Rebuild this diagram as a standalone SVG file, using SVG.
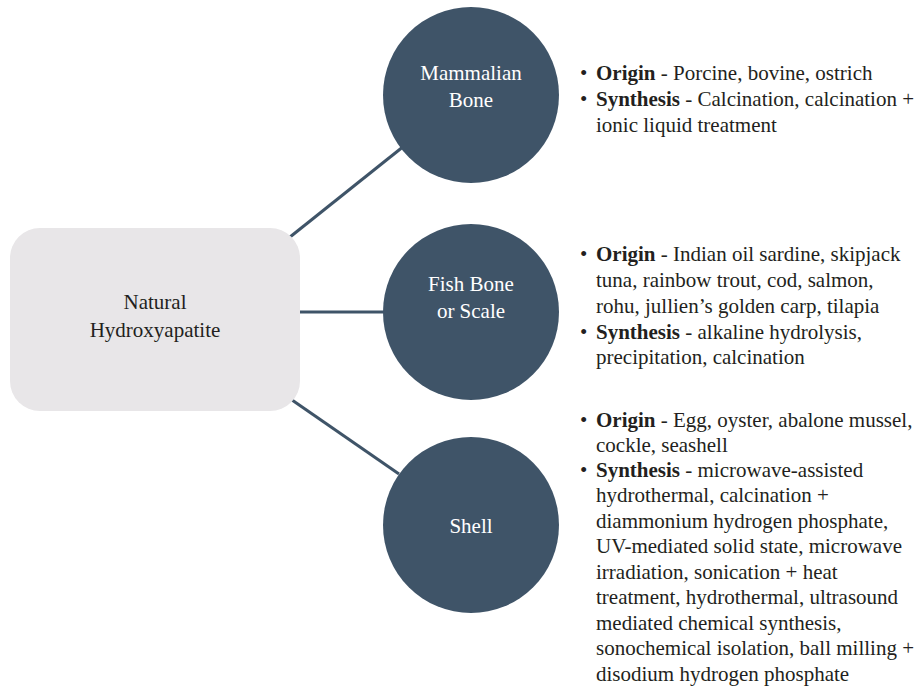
<svg xmlns="http://www.w3.org/2000/svg" width="918" height="686" viewBox="0 0 918 686">
<style>
.e{stroke:#3f5468;stroke-width:3;fill:none}
.c{fill:#3f5468}
</style>
<rect width="918" height="686" fill="#ffffff"/>
<g id="connectors">
<line class="e" x1="290" y1="237" x2="404" y2="146"/>
<line class="e" x1="300" y1="312" x2="386" y2="312"/>
<line class="e" x1="292" y1="400" x2="399" y2="474"/>
</g>
<g id="root">
<rect x="10" y="228" width="290" height="183" rx="30" ry="30" fill="#e8e6e8"/>
<text x="155" y="309" font-family="Liberation Serif" font-size="21" fill="#231f20" text-anchor="middle">Natural</text>
<text x="155" y="337" font-family="Liberation Serif" font-size="21" fill="#231f20" text-anchor="middle">Hydroxyapatite</text>
</g>
<g id="mammalian">
<circle class="c" cx="471" cy="95" r="88"/>
<text x="471" y="80" font-family="Liberation Serif" font-size="21" fill="#ffffff" text-anchor="middle">Mammalian</text>
<text x="471" y="107" font-family="Liberation Serif" font-size="21" fill="#ffffff" text-anchor="middle">Bone</text>
</g>
<g id="fish">
<circle class="c" cx="471" cy="312" r="88"/>
<text x="471" y="291" font-family="Liberation Serif" font-size="21" fill="#ffffff" text-anchor="middle">Fish Bone</text>
<text x="471" y="318" font-family="Liberation Serif" font-size="21" fill="#ffffff" text-anchor="middle">or Scale</text>
</g>
<g id="shell">
<circle class="c" cx="471" cy="525" r="88"/>
<text x="471" y="533" font-family="Liberation Serif" font-size="21" fill="#ffffff" text-anchor="middle">Shell</text>
</g>
<g id="mammalian-notes">
<text x="580" y="80" font-family="Liberation Serif" font-size="21" fill="#231f20">•</text><text x="596" y="80" font-family="Liberation Serif" font-size="21" fill="#231f20"><tspan font-weight="bold">Origin</tspan> - Porcine, bovine, ostrich</text>
<text x="580" y="106" font-family="Liberation Serif" font-size="21" fill="#231f20">•</text><text x="596" y="106" font-family="Liberation Serif" font-size="21" fill="#231f20"><tspan font-weight="bold">Synthesis</tspan> - Calcination, calcination +</text>
<text x="596" y="132" font-family="Liberation Serif" font-size="21" fill="#231f20">ionic liquid treatment</text>
</g>
<g id="fish-notes">
<text x="580" y="261" font-family="Liberation Serif" font-size="21" fill="#231f20">•</text><text x="596" y="261" font-family="Liberation Serif" font-size="21" fill="#231f20"><tspan font-weight="bold">Origin</tspan> - Indian oil sardine, skipjack</text>
<text x="596" y="287" font-family="Liberation Serif" font-size="21" fill="#231f20">tuna, rainbow trout, cod, salmon,</text>
<text x="596" y="313" font-family="Liberation Serif" font-size="21" fill="#231f20">rohu, jullien’s golden carp, tilapia</text>
<text x="580" y="339" font-family="Liberation Serif" font-size="21" fill="#231f20">•</text><text x="596" y="339" font-family="Liberation Serif" font-size="21" fill="#231f20"><tspan font-weight="bold">Synthesis</tspan> - alkaline hydrolysis,</text>
<text x="596" y="364" font-family="Liberation Serif" font-size="21" fill="#231f20">precipitation, calcination</text>
</g>
<g id="shell-notes">
<text x="580" y="427" font-family="Liberation Serif" font-size="21" fill="#231f20">•</text><text x="596" y="427" font-family="Liberation Serif" font-size="21" fill="#231f20"><tspan font-weight="bold">Origin</tspan> - Egg, oyster, abalone mussel,</text>
<text x="596" y="452" font-family="Liberation Serif" font-size="21" fill="#231f20">cockle, seashell</text>
<text x="580" y="477" font-family="Liberation Serif" font-size="21" fill="#231f20">•</text><text x="596" y="477" font-family="Liberation Serif" font-size="21" fill="#231f20"><tspan font-weight="bold">Synthesis</tspan> - microwave-assisted</text>
<text x="596" y="502" font-family="Liberation Serif" font-size="21" fill="#231f20">hydrothermal, calcination +</text>
<text x="596" y="528" font-family="Liberation Serif" font-size="21" fill="#231f20">diammonium hydrogen phosphate,</text>
<text x="596" y="553" font-family="Liberation Serif" font-size="21" fill="#231f20">UV-mediated solid state, microwave</text>
<text x="596" y="579" font-family="Liberation Serif" font-size="21" fill="#231f20">irradiation, sonication + heat</text>
<text x="596" y="604" font-family="Liberation Serif" font-size="21" fill="#231f20">treatment, hydrothermal, ultrasound</text>
<text x="596" y="630" font-family="Liberation Serif" font-size="21" fill="#231f20">mediated chemical synthesis,</text>
<text x="596" y="655" font-family="Liberation Serif" font-size="21" fill="#231f20">sonochemical isolation, ball milling +</text>
<text x="596" y="681" font-family="Liberation Serif" font-size="21" fill="#231f20">disodium hydrogen phosphate</text>
</g>
</svg>
